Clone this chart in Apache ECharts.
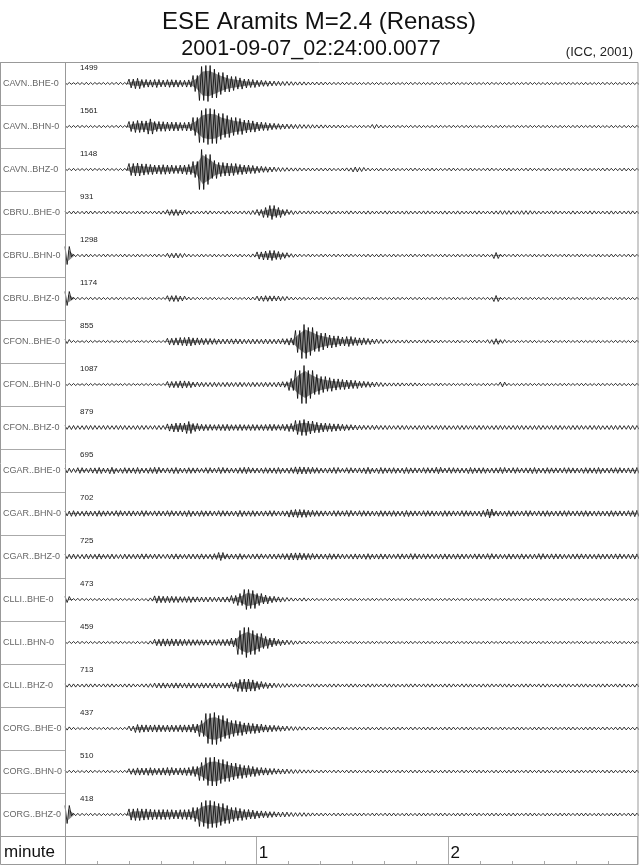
<!DOCTYPE html>
<html>
<head>
<meta charset="utf-8">
<script src="https://cdn.jsdelivr.net/npm/echarts@6/dist/echarts.min.js"></script>
<style>
html,body{margin:0;padding:0;background:#fff;}
#chart{width:640px;height:866px;}
</style>
</head>
<body>
<div id="chart"></div>
<script>
// ---- data ----
const titleLine1 = 'ESE Aramits M=2.4 (Renass)';
const titleLine2 = '2001-09-07_02:24:00.0077';
const credit = '(ICC, 2001)';
const axisName = 'minute';
const stations = ['CAVN..BHE-0','CAVN..BHN-0','CAVN..BHZ-0','CBRU..BHE-0','CBRU..BHN-0','CBRU..BHZ-0',
  'CFON..BHE-0','CFON..BHN-0','CFON..BHZ-0','CGAR..BHE-0','CGAR..BHN-0','CGAR..BHZ-0',
  'CLLI..BHE-0','CLLI..BHN-0','CLLI..BHZ-0','CORG..BHE-0','CORG..BHN-0','CORG..BHZ-0'];
const maxCounts = [1499,1561,1148,931,1298,1174,855,1087,879,695,702,725,473,459,713,437,510,418];
const binSeconds = 2;        // each envelope value covers 2 s
const recordSeconds = 179;   // length of the record shown
// envelope amplitudes per 2 s bin, in % of trace full scale
const CAVN_BHE = [5,4,5,6,5,4,5,5,6,5, 22,26,20,18,20,17,19,18,16,18, 40,85,90,72,55,42,35,28,22,20, 16,14,12,11,10,9,8,8,7,7, 7,6,6,6,6,6,5,6,5,6, 5,6,5,5,6,5,5,6,5,5, 6,5,5,6,5,5,6,5,5,6, 5,5,6,5,5,6,5,5,6,5, 5,6,5,5,6,5,5,6,5,5];
const CAVN_BHN = [5,5,6,5,5,6,5,5,6,5, 25,30,28,38,25,24,22,22,20,22, 45,80,90,85,65,55,45,40,32,28, 22,20,16,14,12,11,10,9,9,8, 8,7,7,7,6,6,6,6,10,7, 6,6,6,5,6,6,5,6,6,5, 6,5,6,6,5,6,5,6,6,5, 6,5,6,5,6,6,5,6,5,6, 6,5,6,6,5,6,5,6,5,6];
const CAVN_BHZ = [5,6,5,5,6,5,6,5,5,6, 30,32,28,25,22,24,22,20,22,25, 40,100,75,45,35,32,30,25,22,20, 16,14,12,10,9,8,8,7,7,7, 7,7,6,7,8,12,10,7,6,7, 6,7,6,6,7,6,6,7,6,6, 7,6,6,7,6,6,7,6,6,7, 6,6,7,6,6,7,6,6,7,6, 6,7,6,6,7,6,6,7,6,6];
const CBRU_BHE = [6,7,6,7,7,6,7,6,7,7, 6,7,7,6,7,8,14,15,12,8, 7,7,8,7,7,8,7,7,8,10, 15,25,35,25,15,10,8,7,8,7, 7,8,7,7,8,7,7,8,7,7, 8,7,7,8,7,7,8,7,7,8, 7,8,7,7,8,7,7,8,9,9, 8,9,9,8,7,7,8,7,7,8, 7,7,8,7,7,8,7,7,8,7];
const CBRU_BHN = [45,6,6,7,6,6,7,6,6,7, 6,7,6,6,7,6,11,12,10,7, 6,7,6,7,6,7,6,7,6,8, 18,22,25,20,14,9,7,6,7,6, 7,6,7,6,7,6,6,7,6,7, 6,7,6,6,7,6,7,6,6,7, 6,7,6,7,6,7,6,15,7,6, 7,6,6,7,6,7,6,6,7,6, 7,6,6,7,6,7,6,6,7,6];
const CBRU_BHZ = [35,6,6,5,6,6,5,6,6,5, 6,6,5,6,6,5,14,15,12,7, 6,5,6,6,5,6,6,5,6,7, 12,14,13,12,10,7,6,6,5,6, 6,5,6,6,5,6,6,5,6,6, 5,6,6,5,6,6,5,6,6,5, 6,6,5,6,6,5,6,15,6,6, 5,6,6,5,6,6,5,6,6,5, 6,6,5,6,6,5,6,6,5,6];
const CFON_BHE = [10,5,4,5,5,4,5,5,4,5, 5,4,5,5,4,5,16,18,20,22, 18,16,15,14,12,12,13,12,11,12, 11,12,11,12,14,18,55,85,70,50, 42,32,28,22,25,20,18,15,12,10, 8,8,7,8,7,7,8,7,7,6, 6,7,6,6,7,6,9,14,9,6, 6,5,6,6,5,6,6,5,6,5, 6,5,5,6,5,5,6,5,5,6];
const CFON_BHN = [5,5,4,5,5,4,5,5,4,5, 5,4,5,5,4,5,15,16,18,16, 12,11,10,11,10,11,10,11,10,11, 10,11,10,12,14,30,70,95,70,50, 40,34,28,25,22,20,16,14,12,10, 8,8,8,7,8,7,6,6,7,6, 6,5,6,6,5,6,6,5,12,6, 5,6,6,5,6,6,5,6,6,5, 6,6,5,6,6,5,6,6,5,6];
const CFON_BHZ = [9,10,9,10,10,9,10,9,10,10, 9,10,10,9,10,10,18,22,22,30, 20,16,15,14,15,16,14,15,14,15, 14,15,16,14,16,20,35,40,32,26, 22,20,18,16,14,12,11,10,11,10, 10,9,10,10,9,10,10,9,10,10, 9,10,10,9,10,10,9,10,10,9, 10,10,9,10,10,9,10,10,9,10, 10,9,10,10,9,10,10,9,10,10];
const CGAR_BHE = [12,10,14,11,13,15,12,16,11,14, 13,15,12,14,16,12,13,15,12,14, 13,11,14,12,15,13,12,14,16,13, 12,14,13,15,12,14,18,17,16,14, 12,13,15,11,14,12,13,16,12,15, 13,14,12,15,13,12,14,13,16,12, 14,13,12,15,13,14,12,13,15,12, 14,12,13,15,12,14,13,12,14,13, 12,14,13,15,12,13,14,12,13,15];
const CGAR_BHN = [12,14,11,13,12,14,13,11,14,12, 13,12,14,11,13,12,14,12,13,15, 12,14,13,12,14,13,12,15,13,14, 12,13,14,12,13,18,20,19,16,14, 13,12,14,13,15,12,14,13,12,14, 13,14,12,15,13,12,14,13,12,14, 13,12,14,13,12,15,22,13,12,14, 13,12,14,12,13,14,12,13,14,12, 13,14,12,13,12,14,13,12,14,16];
const CGAR_BHZ = [11,12,10,12,11,13,11,12,10,12, 11,12,13,11,12,10,12,13,11,12, 12,13,11,14,20,13,12,14,11,12, 13,11,12,13,14,17,18,16,15,13, 12,14,13,12,11,13,12,14,12,13, 12,11,13,12,14,12,13,11,12,13, 12,13,12,11,13,12,14,12,11,13, 12,13,11,12,14,12,13,12,11,12, 13,12,11,13,12,12,13,11,12,13];
const CLLI_BHE = [15,5,6,5,5,6,5,5,6,5, 5,6,5,8,18,16,16,15,14,15, 13,12,12,11,12,13,20,30,50,45, 30,22,16,13,10,8,7,8,6,6, 5,6,6,5,6,6,5,6,6,5, 6,6,5,6,6,5,6,6,5,6, 6,5,6,6,5,6,6,5,6,6, 5,6,6,5,6,6,5,6,6,5, 6,6,5,6,6,5,6,6,5,6];
const CLLI_BHN = [5,5,6,5,5,6,5,5,6,5, 5,6,5,8,16,18,18,17,16,15, 14,14,13,14,15,16,22,60,75,60, 45,30,22,16,12,10,8,7,6,6, 5,6,6,5,6,6,5,6,6,5, 6,6,5,6,6,5,6,6,5,6, 6,5,6,6,5,6,6,5,6,6, 5,6,6,5,6,6,5,6,6,5, 6,6,5,6,6,5,6,6,5,6];
const CLLI_BHZ = [8,8,7,8,8,7,8,8,7,8, 8,7,8,9,12,13,12,13,12,13, 12,13,12,13,12,13,18,30,32,28, 20,15,12,10,9,8,8,7,8,8, 7,8,8,7,8,8,7,8,8,7, 8,8,7,8,8,7,8,8,7,8, 8,7,8,8,7,8,8,7,8,8, 7,8,8,7,8,8,7,8,8,7, 8,8,7,8,8,7,8,8,7,8];
const CORG_BHE = [8,6,5,6,6,5,6,6,5,6, 12,20,18,17,18,16,17,16,18,18, 22,40,75,80,65,50,40,35,28,25, 22,18,16,14,12,10,9,8,7,7, 7,6,7,7,6,7,6,7,6,7, 6,7,7,6,7,6,7,7,6,7, 7,6,7,7,6,7,7,6,7,6, 7,7,6,7,7,6,7,6,7,7, 6,7,7,6,7,6,7,7,6,7];
const CORG_BHN = [6,6,5,6,6,5,6,6,5,6, 14,18,17,19,16,18,20,17,18,20, 25,45,70,72,60,50,42,35,30,25, 20,18,15,13,12,10,9,8,8,7, 7,6,7,6,7,7,6,7,6,7, 7,6,7,6,7,7,6,7,6,7, 7,6,7,6,7,7,6,7,6,7, 7,6,7,6,7,7,6,7,6,7, 7,6,7,6,7,7,6,7,6,7];
const CORG_BHZ = [45,6,6,5,6,6,5,6,6,5, 28,30,28,26,24,25,24,22,24,25, 35,60,70,65,55,45,35,30,25,22, 18,16,14,12,12,10,9,9,8,7, 7,6,7,7,6,7,7,6,7,6, 7,7,6,7,6,7,7,6,7,7, 6,7,7,6,7,6,7,7,6,7, 7,6,7,7,6,7,6,7,7,6, 7,7,6,7,6,7,7,6,7,7];

const traces = [CAVN_BHE,CAVN_BHN,CAVN_BHZ,CBRU_BHE,CBRU_BHN,CBRU_BHZ,CFON_BHE,CFON_BHN,CFON_BHZ,
  CGAR_BHE,CGAR_BHN,CGAR_BHZ,CLLI_BHE,CLLI_BHN,CLLI_BHZ,CORG_BHE,CORG_BHN,CORG_BHZ];

// ---- chart ----
const nRows = stations.length;
const rowPx = 43;
const K = (20 / rowPx) / 100;   // 100 % amplitude = 20 px
const subSteps = 3;             // min/max strokes drawn per bin
const FONT = 'Liberation Sans, Arial, sans-serif';

const series = [];
traces.forEach((tr, i) => {
  const base = i + 0.5;
  const pts = [];
  let sgn = -1;
  tr.forEach((a, j) => {
    for (let s = 0; s < subSteps; s++) {
      pts.push([j * binSeconds + s * binSeconds / subSteps, base + sgn * a * K]);
      sgn = -sgn;
    }
  });
  series.push({
    type: 'line', xAxisIndex: 0, yAxisIndex: 0, data: pts,
    showSymbol: false, silent: true, animation: false,
    lineStyle: { color: '#000', width: 0.8 }, z: 3
  });
});

// envelope shading of the stronger parts (dense look of the bursts)
series.push({
  type: 'custom', xAxisIndex: 0, yAxisIndex: 0, silent: true, animation: false, z: 2,
  data: traces.map((_, i) => [0, i]),
  encode: { x: 0, y: 1 },
  renderItem: function (params, api) {
    const i = api.value(1);
    const tr = traces[i];
    const base = i + 0.5;
    const env = a => Math.max(0, a - 10) * K * 0.8;
    const up = tr.map((a, j) => api.coord([j * binSeconds + binSeconds / 2, base - env(a)]));
    const lo = tr.map((a, j) => api.coord([j * binSeconds + binSeconds / 2, base + env(a)])).reverse();
    return { type: 'polygon', shape: { points: up.concat(lo) }, style: { fill: 'rgba(0,0,0,0.45)' } };
  }
});

// max counts labels
series.push({
  type: 'custom', xAxisIndex: 0, yAxisIndex: 0, silent: true, animation: false, z: 4,
  data: maxCounts.map((v, i) => [0, i, v]),
  encode: { x: 0, y: 1 },
  renderItem: function (params, api) {
    const p = api.coord([0, api.value(1)]);
    return { type: 'text', x: p[0] + 15, y: p[1] + 6,
      style: { text: String(api.value(2)), fontSize: 8, fontFamily: FONT,
        fill: '#222', verticalAlign: 'middle', align: 'left' } };
  }
});

const splitColors = ['#aaa','rgba(0,0,0,0)','rgba(0,0,0,0)','rgba(0,0,0,0)','rgba(0,0,0,0)','rgba(0,0,0,0)'];

const option = {
  backgroundColor: '#fff',
  animation: false,
  title: [
    { text: titleLine1, left: 314, top: 5, textAlign: 'center',
      textStyle: { fontSize: 24, fontWeight: 'normal', color: '#111', fontFamily: FONT } },
    { text: titleLine2, left: 306, top: 33, textAlign: 'center',
      textStyle: { fontSize: 21.5, fontWeight: 'normal', color: '#111', fontFamily: FONT } },
    { text: credit, right: 2, top: 41,
      textStyle: { fontSize: 13, fontWeight: 'normal', color: '#222', fontFamily: FONT } }
  ],
  grid: [
    { left: 65, top: 62, width: 573, height: nRows * rowPx },
    { left: 65, top: 62 + nRows * rowPx, width: 573, height: 29 }
  ],
  xAxis: [
    { gridIndex: 0, type: 'value', min: 0, max: recordSeconds, show: false },
    { gridIndex: 1, type: 'value', min: 0, max: recordSeconds, interval: 10, position: 'bottom',
      axisLine: { show: false },
      axisTick: { show: true, inside: true, length: 4, lineStyle: { color: '#aaa', width: 1 } },
      splitLine: { show: true, lineStyle: { color: splitColors, width: 1 } },
      axisLabel: { inside: true, margin: 12, align: 'left', verticalAlign: 'middle', padding: [0, 0, 0, 2],
        fontSize: 17, color: '#111', fontFamily: FONT,
        formatter: v => (v > 0 && v % 60 === 0) ? String(v / 60) : '' } }
  ],
  yAxis: [
    { gridIndex: 0, type: 'value', min: 0, max: nRows, inverse: true, show: false },
    { gridIndex: 0, type: 'category', data: stations, inverse: true, position: 'left',
      axisLine: { show: false },
      axisTick: { show: true, length: 65, alignWithLabel: false, lineStyle: { color: '#aaa', width: 1 } },
      axisLabel: { margin: 62, align: 'left', fontSize: 9, color: '#666', fontFamily: FONT },
      splitLine: { show: false } },
    { gridIndex: 1, type: 'value', show: false, min: 0, max: 1 }
  ],
  graphic: [
    { type: 'rect', shape: { x: 0.5, y: 62.5, width: 637.5, height: 802 }, style: { fill: 'none', stroke: '#999', lineWidth: 1 }, z: 10 },
    { type: 'line', shape: { x1: 65.5, y1: 62, x2: 65.5, y2: 865 }, style: { stroke: '#999', lineWidth: 1 }, z: 10 },
    { type: 'line', shape: { x1: 0, y1: 836.5, x2: 638, y2: 836.5 }, style: { stroke: '#999', lineWidth: 1 }, z: 10 },
    { type: 'text', x: 4, y: 852, style: { text: axisName, fontSize: 17, fill: '#111', verticalAlign: 'middle',
      fontFamily: FONT }, z: 10 }
  ],
  series: series
};

const chart = echarts.init(document.getElementById('chart'), null, { renderer: 'canvas' });
chart.setOption(option);
</script>
</body>
</html>
